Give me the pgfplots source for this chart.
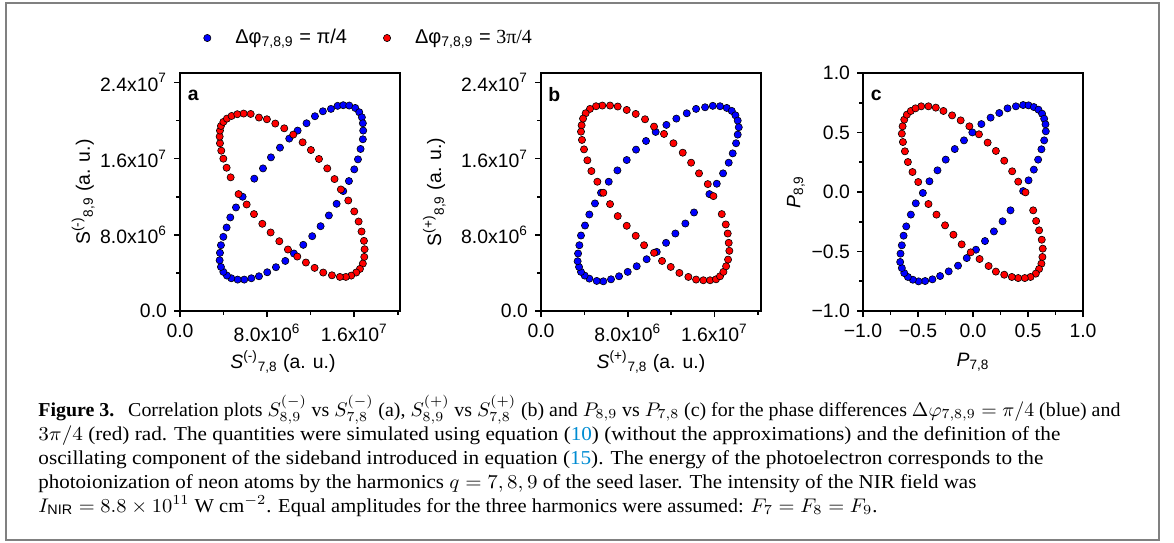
\RequirePackage{fix-cm}
\documentclass[border=0pt]{standalone}
\usepackage{fontspec}
\setmainfont{Liberation Sans}
\setsansfont{Liberation Sans}
\newfontfamily\capfont{Liberation Serif}
\usepackage{graphicx}
\usepackage{pgfplots}
\pgfplotsset{compat=1.18}
\definecolor{mblue}{RGB}{0,0,255}
\definecolor{mred}{RGB}{255,0,0}
\definecolor{linkblue}{RGB}{0,140,210}
\definecolor{framegray}{RGB}{128,128,128}
\newcommand{\tf}{\fontsize{9.7}{10}\selectfont}
\newcommand{\lf}{\fontsize{10}{11}\selectfont}
\pgfplotsset{
  panel/.style={scale only axis, width=110pt, height=119pt, anchor=south west,
    axis line style={line width=1.2pt},
    tick align=outside, tick pos=left,
    major tick length=3pt, minor tick length=1.8pt,
    every tick/.style={black, line width=0.8pt},
    tick label style={font=\tf},
    label style={font=\tf},
    clip=false},
  bl/.style={only marks, mark=*, mark size=1.8pt, draw=black, fill=mblue, mark options={line width=0.3pt}},
  rd/.style={only marks, mark=*, mark size=1.8pt, draw=black, fill=mred, mark options={line width=0.3pt}},
}
\begin{document}
\begin{tikzpicture}
\path[use as bounding box] (0pt,0pt) rectangle (587pt,-271pt);
\draw[framegray, line width=1pt] (3pt,-1.3pt) rectangle (579.5pt,-270.2pt);

% ---------------- panel a
\begin{axis}[panel, at={(90pt,-155.5pt)},
  xmin=0, xmax=20.2, ymin=0, ymax=25,
  xtick={0,8,16}, xticklabels={0.0, 8.0x10\textsuperscript{6}, 1.6x10\textsuperscript{7}},
  ytick={0,8,16,24}, yticklabels={0.0, 8.0x10\textsuperscript{6}, 1.6x10\textsuperscript{7}, 2.4x10\textsuperscript{7}},
  minor xtick={4,12,20}, minor ytick={4,12,20},
  xlabel={\textit{S}\textsuperscript{(-)}\textsubscript{7,8} (a. u.)},
  ylabel={S\textsuperscript{(-)}\textsubscript{8,9} (a. u.)},
  xlabel style={at={(axis description cs:0.468,-0.214)}, anchor=center},
  ylabel style={at={(axis description cs:-0.44,0.5)}, anchor=center},
  legend columns=2,
  legend style={draw=none, fill=none, at={(axis description cs:0.106,1.147)}, anchor=west,
    font=\lf, inner sep=0pt, nodes={inner sep=0pt},
    /tikz/every odd column/.append style={column sep=12.2pt},
    /tikz/every even column/.append style={column sep=18.2pt}},
  legend image code/.code={\draw[#1] plot coordinates {(0pt,0pt)};},
]
\addplot[bl] coordinates {(14.47,21.55)(14.99,21.62)(15.54,21.58)(16.09,21.33)(16.46,20.88)(16.70,20.35)(16.79,19.72)(16.82,18.95)(16.79,18.04)(16.58,17.02)(16.34,15.93)(16.00,14.88)(15.51,13.65)(14.99,12.60)(14.38,11.26)(13.67,10.04)(12.91,8.91)(12.14,7.86)(11.32,6.95)(10.46,6.04)(9.67,5.26)(8.81,4.60)(8.01,4.07)(7.25,3.65)(6.55,3.44)(5.90,3.30)(5.29,3.30)(4.71,3.44)(4.31,3.72)(3.98,4.11)(3.76,4.63)(3.64,5.33)(3.67,6.11)(3.76,6.91)(3.98,7.79)(4.28,8.77)(4.62,9.83)(5.14,10.88)(5.75,12.00)(6.82,13.90)(7.62,14.98)(8.35,16.14)(9.18,17.16)(10.03,18.11)(10.80,18.95)(11.62,19.72)(12.39,20.46)(13.12,20.98)(13.86,21.23)};
\addlegendentry{Δφ\textsubscript{7,8,9} = π/4}
\addplot[rd] coordinates {(5.84,20.74)(6.49,20.70)(7.25,20.32)(7.98,20.14)(8.75,19.69)(9.57,19.19)(10.40,18.53)(11.26,17.72)(12.02,16.91)(12.76,15.97)(13.52,14.98)(14.19,13.86)(14.77,12.77)(15.45,11.61)(16.00,10.46)(16.40,9.40)(16.67,8.35)(16.89,7.37)(16.95,6.49)(16.92,5.68)(16.79,4.98)(16.52,4.42)(16.18,4.04)(15.72,3.72)(15.23,3.58)(14.68,3.58)(13.95,3.75)(13.15,4.04)(12.36,4.53)(11.56,5.09)(10.77,5.72)(9.91,6.46)(9.12,7.33)(8.32,8.25)(7.56,9.16)(6.79,10.18)(6.12,11.19)(5.38,12.28)(4.65,14.04)(4.28,15.05)(3.98,16.00)(3.79,16.84)(3.67,17.62)(3.64,18.32)(3.67,18.95)(3.76,19.44)(3.98,19.86)(4.31,20.21)(4.74,20.49)(5.26,20.67)};
\addlegendentry{Δφ\textsubscript{7,8,9} = {\capfont 3π/4}}
\node[font=\bfseries\tf] at (axis description cs:0.06,0.908) {a};
\end{axis}

% ---------------- panel b
\begin{axis}[panel, at={(270.5pt,-155.5pt)},
  xmin=0, xmax=20.3, ymin=0, ymax=25,
  xtick={0,8,16}, xticklabels={0.0, 8.0x10\textsuperscript{6}, 1.6x10\textsuperscript{7}},
  ytick={0,8,16,24}, yticklabels={0.0, 8.0x10\textsuperscript{6}, 1.6x10\textsuperscript{7}, 2.4x10\textsuperscript{7}},
  minor xtick={4,12,20}, minor ytick={4,12,20},
  xlabel={\textit{S}\textsuperscript{(+)}\textsubscript{7,8} (a. u.)},
  ylabel={S\textsuperscript{(+)}\textsubscript{8,9} (a. u.)},
  xlabel style={at={(axis description cs:0.5,-0.214)}, anchor=center},
  ylabel style={at={(axis description cs:-0.485,0.5)}, anchor=center},
]
\addplot[bl] coordinates {(15.14,21.40)(15.85,21.55)(16.52,21.51)(17.14,21.33)(17.60,21.02)(17.94,20.56)(18.15,20.00)(18.25,19.30)(18.15,18.53)(18.00,17.62)(17.69,16.56)(17.32,15.58)(16.80,14.46)(16.22,13.37)(15.54,12.28)(14.12,10.35)(13.32,9.19)(12.40,8.14)(11.54,7.16)(10.68,6.21)(9.75,5.44)(8.83,4.70)(8.00,4.11)(7.20,3.65)(6.46,3.33)(5.75,3.12)(5.14,3.16)(4.46,3.40)(4.03,3.72)(3.69,4.11)(3.51,4.63)(3.38,5.23)(3.42,6.04)(3.54,6.91)(3.69,7.93)(4.06,8.98)(4.46,10.14)(4.98,11.30)(5.54,12.42)(6.25,13.58)(7.05,14.77)(7.91,15.86)(8.77,16.95)(9.69,17.86)(10.58,18.81)(11.57,19.55)(12.49,20.21)(13.45,20.77)(14.31,21.23)};
\addplot[rd] coordinates {(3.75,19.51)(3.69,18.84)(3.78,17.97)(3.97,16.98)(4.28,15.83)(4.65,14.70)(5.20,13.58)(5.75,12.42)(6.37,11.23)(7.08,9.97)(7.91,8.95)(8.74,7.90)(9.51,6.91)(10.43,6.11)(11.17,5.26)(11.97,4.63)(12.77,4.00)(13.60,3.58)(14.31,3.30)(14.98,3.23)(15.60,3.23)(16.15,3.33)(16.52,3.65)(16.83,4.11)(17.08,4.70)(17.26,5.40)(17.38,6.32)(17.32,7.16)(17.23,8.14)(17.05,9.09)(16.68,10.18)(15.91,12.07)(15.39,13.33)(14.58,14.46)(13.85,15.58)(13.08,16.63)(12.22,17.62)(11.35,18.60)(10.43,19.37)(9.60,20.14)(8.74,20.70)(7.91,21.12)(7.08,21.48)(6.37,21.58)(5.66,21.58)(5.08,21.51)(4.52,21.23)(4.12,20.77)(3.88,20.21)};
\node[font=\bfseries\tf] at (axis description cs:0.06,0.908) {b};
\end{axis}

% ---------------- panel c
\begin{axis}[panel, at={(431.5pt,-155.5pt)},
  xmin=-1, xmax=1, ymin=-1, ymax=1,
  xtick={-1,-0.5,0,0.5,1}, xticklabels={−1.0,−0.5,0.0,0.5,1.0},
  ytick={-1,-0.5,0,0.5,1}, yticklabels={−1.0,−0.5,0.0,0.5,1.0},
  minor xtick={-0.75,-0.25,0.25,0.75}, minor ytick={-0.75,-0.25,0.25,0.75},
  xlabel={\textit{P}\textsubscript{7,8}},
  ylabel={\textit{P}\textsubscript{8,9}},
  xlabel style={at={(axis description cs:0.5,-0.214)}, anchor=center},
  ylabel style={at={(axis description cs:-0.305,0.5)}, anchor=center},
]
\addplot[bl] coordinates {(0.390,0.720)(0.456,0.731)(0.505,0.728)(0.553,0.714)(0.595,0.692)(0.628,0.658)(0.647,0.616)(0.659,0.569)(0.662,0.510)(0.647,0.434)(0.622,0.359)(0.592,0.272)(0.553,0.188)(0.505,0.098)(0.456,0.008)(0.341,-0.154)(0.269,-0.246)(0.190,-0.331)(0.109,-0.412)(0.027,-0.485)(-0.057,-0.555)(-0.136,-0.619)(-0.221,-0.667)(-0.299,-0.706)(-0.369,-0.734)(-0.435,-0.748)(-0.495,-0.751)(-0.547,-0.737)(-0.592,-0.714)(-0.625,-0.681)(-0.647,-0.639)(-0.662,-0.588)(-0.659,-0.518)(-0.647,-0.448)(-0.631,-0.367)(-0.607,-0.289)(-0.565,-0.190)(-0.520,-0.095)(-0.456,-0.008)(-0.396,0.090)(-0.323,0.182)(-0.248,0.272)(-0.166,0.361)(-0.082,0.434)(-0.006,0.501)(0.076,0.571)(0.160,0.625)(0.239,0.664)(0.314,0.703)};
\addplot[rd] coordinates {(-0.471,0.720)(-0.405,0.720)(-0.338,0.709)(-0.269,0.681)(-0.190,0.644)(-0.112,0.602)(-0.033,0.552)(0.054,0.485)(0.133,0.415)(0.208,0.345)(0.284,0.263)(0.356,0.174)(0.411,0.087)(0.477,-0.003)(0.547,-0.154)(0.574,-0.244)(0.601,-0.322)(0.625,-0.401)(0.634,-0.476)(0.631,-0.546)(0.622,-0.602)(0.601,-0.647)(0.571,-0.686)(0.523,-0.714)(0.471,-0.723)(0.411,-0.723)(0.353,-0.714)(0.284,-0.695)(0.208,-0.669)(0.142,-0.622)(0.060,-0.563)(-0.021,-0.507)(-0.103,-0.440)(-0.178,-0.359)(-0.254,-0.280)(-0.332,-0.190)(-0.405,-0.101)(-0.498,0.084)(-0.550,0.168)(-0.592,0.252)(-0.619,0.342)(-0.637,0.420)(-0.647,0.490)(-0.640,0.552)(-0.625,0.608)(-0.601,0.650)(-0.565,0.681)(-0.523,0.703)};
\node[font=\bfseries\tf] at (axis description cs:0.06,0.908) {c};
\end{axis}

% ---------------- caption
\begin{scope}[every node/.style={anchor=base west, inner sep=0pt, text height=7pt, text depth=2pt, font=\capfont\fontsize{10.6}{12}\selectfont}]
\node at (19pt,-208pt) {\resizebox{541pt}{0.93\height}{\textbf{Figure 3.}\hspace{0.7em}Correlation plots $S_{8{,}9}^{(-)}$ vs $S_{7{,}8}^{(-)}$ (a), $S_{8{,}9}^{(+)}$ vs $S_{7{,}8}^{(+)}$ (b) and $P_{8{,}9}$ vs $P_{7{,}8}$ (c) for the phase differences $\Delta\varphi_{7{,}8{,}9}=\pi/4$ (blue) and}};
\node at (19pt,-220pt) {\resizebox{511pt}{0.93\height}{$3\pi/4$ (red) rad. The quantities were simulated using equation (\textcolor{linkblue}{10}) (without the approximations) and the definition of the}};
\node at (19pt,-232pt) {\resizebox{502.5pt}{0.93\height}{oscillating component of the sideband introduced in equation (\textcolor{linkblue}{15}). The energy of the photoelectron corresponds to the}};
\node at (19pt,-244pt) {\resizebox{469pt}{0.93\height}{photoionization of neon atoms by the harmonics $q=7,8,9$ of the seed laser. The intensity of the NIR field was}};
\node at (19pt,-256pt) {\resizebox{419.5pt}{0.93\height}{$I_{\mathrm{NIR}}=8.8\times10^{11}$ W cm$^{-2}$. Equal amplitudes for the three harmonics were assumed: $F_7=F_8=F_9$.}};
\end{scope}
\end{tikzpicture}
\end{document}
